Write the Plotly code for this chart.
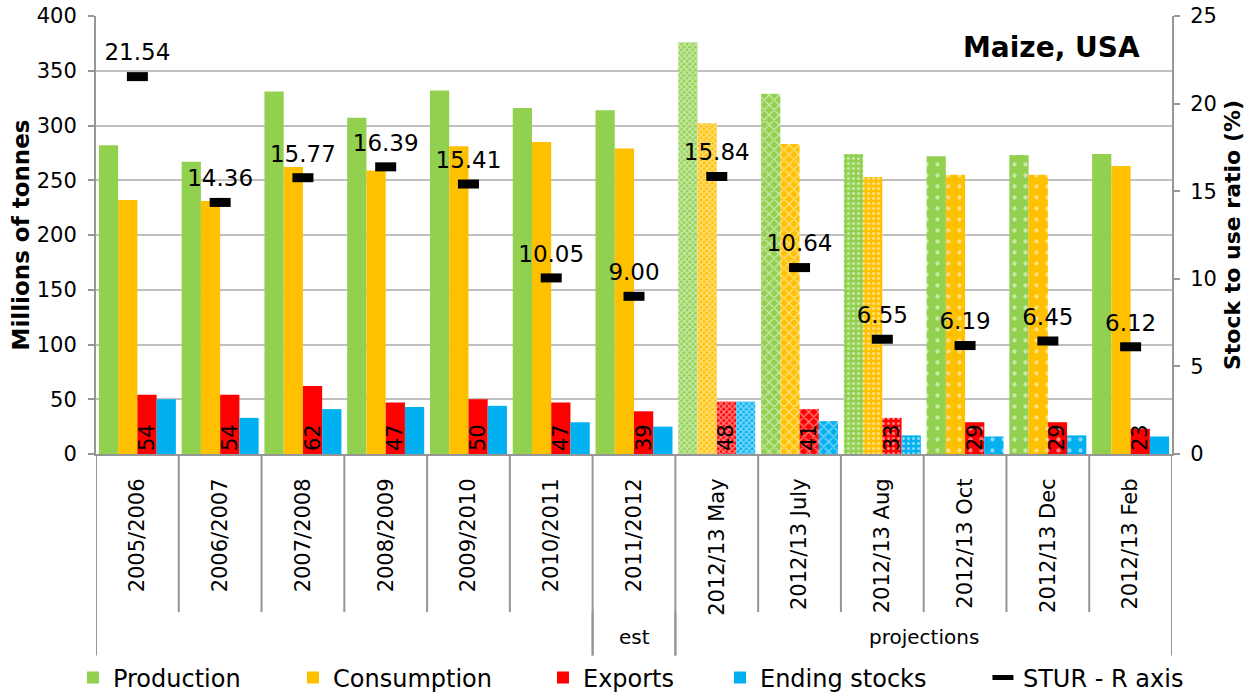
import plotly.graph_objects as go

categories = ["2005/2006", "2006/2007", "2007/2008", "2008/2009", "2009/2010",
              "2010/2011", "2011/2012", "2012/13 May", "2012/13 July",
              "2012/13 Aug", "2012/13 Oct", "2012/13 Dec", "2012/13 Feb"]
production = [282, 267, 331, 307, 332, 316, 314, 376, 329, 274, 272, 273, 274]
consumption = [232, 231, 262, 259, 281, 285, 279, 302, 283, 253, 255, 255, 263]
exports = [54, 54, 62, 47, 50, 47, 39, 48, 41, 33, 29, 29, 23]
ending_stocks = [50, 33, 41, 43, 44, 29, 25, 48, 30, 17, 16, 17, 16]
stur = [21.54, 14.36, 15.77, 16.39, 15.41, 10.05, 9.00, 15.84, 10.64, 6.55, 6.19, 6.45, 6.12]
groups = [("", 0, 5), ("est", 6, 6), ("projections", 7, 12)]

# pattern per category (solid for history / latest)
pat_shape = ["", "", "", "", "", "", "", "x", "x", ".", ".", ".", ""]
pat_size = [8, 8, 8, 8, 8, 8, 8, 4, 7, 5, 11, 11, 8]
pat_solid = [0.3, 0.3, 0.3, 0.3, 0.3, 0.3, 0.3, 0.6, 0.35, 0.3, 0.12, 0.12, 0.3]

FONT = "DejaVu Sans, Verdana, sans-serif"
GRID = "#c0c0c0"
AXIS = "#969696"

series = [
    ("Production", production, "#92D050"),
    ("Consumption", consumption, "#FFC000"),
    ("Exports", exports, "#FF0000"),
    ("Ending stocks", ending_stocks, "#00B0F0"),
]

fig = go.Figure()
legend_names = ["legend", "legend2", "legend3", "legend4", "legend5"]
for k, (name, vals, col) in enumerate(series):
    kw = {}
    if name == "Exports":
        kw = dict(text=[str(v) for v in vals], textposition="inside",
                  insidetextanchor="start", textangle=-90, constraintext="none",
                  textfont=dict(family=FONT, size=21, color="black"))
    fig.add_trace(go.Bar(
        x=categories, y=vals, name=name, legend=legend_names[k],
        marker=dict(color=col, line=dict(width=0),
                    pattern=dict(shape=pat_shape, size=pat_size, solidity=pat_solid,
                                 fgcolor="white", fillmode="overlay")),
        cliponaxis=False, **kw))

fig.add_trace(go.Scatter(
    x=categories, y=stur, yaxis="y2", name="STUR - R axis", legend="legend5",
    mode="markers+text", text=[f"{v:.2f}" for v in stur], textposition="top center",
    textfont=dict(family=FONT, size=23, color="black"),
    marker=dict(symbol="line-ew", size=15, color="black",
                line=dict(width=9, color="black")),
    cliponaxis=False))

# category dividers below the axis
shapes = []
n = len(categories)
for i in range(n + 1):
    shapes.append(dict(type="line", xref="x", yref="paper", x0=i - 0.5, x1=i - 0.5,
                       y0=0, y1=-0.361, line=dict(color=AXIS, width=2)))
for g, a, b in groups:
    for xb in (a - 0.5, b + 0.5):
        shapes.append(dict(type="line", xref="x", yref="paper", x0=xb, x1=xb,
                           y0=-0.36, y1=-0.46, line=dict(color=AXIS, width=2)))

annotations = []
for g, a, b in groups:
    if g:
        annotations.append(dict(text=g, xref="x", yref="paper", x=(a + b) / 2, y=-0.418,
                                yanchor="middle", showarrow=False,
                                font=dict(family=FONT, size=20, color="black")))
annotations.append(dict(text="<b>Maize, USA</b>", xref="paper", yref="paper", x=0.972, y=0.929,
                        xanchor="right", yanchor="middle", showarrow=False,
                        font=dict(family=FONT, size=28, color="black")))

leg_x = [-0.0214, 0.1831, 0.4154, 0.5799, 0.8243]
leg_common = dict(orientation="h", y=-0.511, yanchor="middle", xanchor="left",
                  bgcolor="rgba(0,0,0,0)", font=dict(family=FONT, size=24, color="black"))
legends = {}
for name, x in zip(legend_names, leg_x):
    legends[name] = dict(x=x, **leg_common)

fig.update_layout(
    width=1253, height=694, autosize=False,
    margin=dict(l=96, r=81, t=16, b=240, autoexpand=False),
    paper_bgcolor="white", plot_bgcolor="white",
    font=dict(family=FONT, color="black"),
    barmode="group", bargap=0.07, bargroupgap=0,
    showlegend=True,
    shapes=shapes, annotations=annotations,
    xaxis=dict(type="category", categoryorder="array", categoryarray=categories,
               range=[-0.5, n - 0.5], tickangle=-90, ticks="", ticklabelstandoff=14,
               tickfont=dict(family=FONT, size=21, color="black"), automargin=False,
               showline=True, linecolor=AXIS, linewidth=2, showgrid=False),
    yaxis=dict(range=[0, 400], dtick=50, showgrid=True, gridcolor=GRID, gridwidth=2,
               showline=True, linecolor=AXIS, linewidth=2, ticks="outside", ticklen=6,
               tickcolor=AXIS, tickwidth=2, tickfont=dict(family=FONT, size=21, color="black"),
               zeroline=False, automargin=False, ticklabelstandoff=7,
               title=dict(text="<b>Millions of tonnes</b>", standoff=1,
                          font=dict(family=FONT, size=23, color="black"))),
    yaxis2=dict(range=[0, 25], dtick=5, overlaying="y", side="right", showgrid=False,
                showline=True, linecolor=AXIS, linewidth=2, ticks="outside", ticklen=6,
                tickcolor=AXIS, tickwidth=2, zeroline=False, automargin=False,
                ticklabelstandoff=6,
                tickfont=dict(family=FONT, size=21, color="black"),
                title=dict(text="<b>Stock to use ratio (%)</b>", standoff=9,
                           font=dict(family=FONT, size=22, color="black"))),
    **legends,
)

fig.write_html("out.html")
